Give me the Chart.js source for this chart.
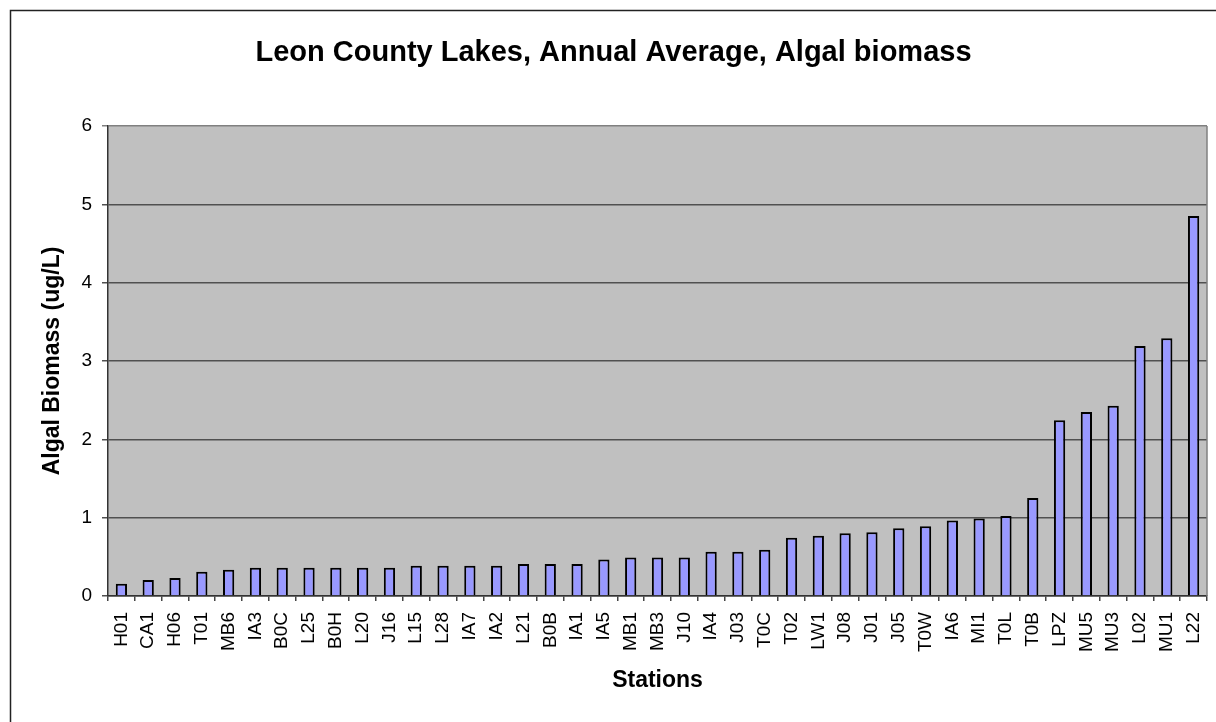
<!DOCTYPE html>
<html>
<head>
<meta charset="utf-8">
<script src="https://cdn.jsdelivr.net/npm/chart.js@4"></script>
<style>
  body { margin: 0; background: #fff; }
  canvas { display: block; }
</style>
</head>
<body>
<canvas id="algaeChart" width="1216" height="722"></canvas>
<script>
const stations = ['H01', 'CA1', 'H06', 'T01', 'MB6', 'IA3', 'B0C', 'L25', 'B0H', 'L20', 'J16', 'L15', 'L28', 'IA7',
    'IA2', 'L21', 'B0B', 'IA1', 'IA5', 'MB1', 'MB3', 'J10', 'IA4', 'J03', 'T0C', 'T02', 'LW1', 'J08', 'J01', 'J05',
    'T0W', 'IA6', 'MI1', 'T0L', 'T0B', 'LPZ', 'MU5', 'MU3', 'L02', 'MU1', 'L22'];
const biomass = [0.155, 0.205, 0.23, 0.31, 0.335, 0.36, 0.36, 0.36, 0.36, 0.36, 0.36, 0.385, 0.385, 0.385,
    0.385, 0.41, 0.41, 0.41, 0.465, 0.49, 0.49, 0.49, 0.565, 0.565, 0.59, 0.745, 0.77, 0.8, 0.815, 0.865,
    0.89, 0.965, 0.99, 1.02, 1.25, 2.245, 2.35, 2.43, 3.19, 3.29, 4.85];
const yTicks = [0, 1, 2, 3, 4, 5, 6];

const FONT = '"Liberation Sans", Arial, sans-serif';

// grey plot area, outer frame and the right edge of the plot
const excelFrame = {
    id: 'excelFrame',
    beforeDraw(chart) {
        const ctx = chart.ctx;
        const a = chart.chartArea;
        ctx.save();
        ctx.fillStyle = '#fff';
        ctx.fillRect(0, 0, chart.width, chart.height);
        ctx.fillStyle = '#c0c0c0';
        ctx.fillRect(a.left, a.top, a.right - a.left, a.bottom - a.top);
        ctx.strokeStyle = '#222';
        ctx.lineWidth = 1.5;
        ctx.strokeRect(10.5, 10.5, 1400, 900);
        ctx.restore();
    },
    afterDraw(chart) {
        const ctx = chart.ctx;
        const a = chart.chartArea;
        ctx.save();
        ctx.strokeStyle = '#808080';
        ctx.lineWidth = 1.5;
        ctx.beginPath();
        ctx.moveTo(a.right, a.top);
        ctx.lineTo(a.right, a.bottom);
        ctx.stroke();
        ctx.restore();
    }
};

new Chart(document.getElementById('algaeChart'), {
    type: 'bar',
    data: {
        labels: stations,
        datasets: [{
            data: biomass,
            backgroundColor: '#9999ff',
            borderColor: '#000',
            borderWidth: 2,
            categoryPercentage: 1,
            barPercentage: 0.42
        }]
    },
    options: {
        responsive: false,
        animation: false,
        layout: {
            padding: { top: 0, right: 9, left: 20, bottom: 0 }
        },
        plugins: {
            legend: { display: false },
            tooltip: { enabled: false },
            title: {
                display: true,
                text: 'Leon County Lakes, Annual Average, Algal biomass',
                color: '#000',
                font: { family: FONT, size: 29, weight: 'bold' },
                padding: { top: 35.5, bottom: 55.7 }
            }
        },
        scales: {
            x: {
                afterFit: (scale) => {
                    scale.height = 126;
                    scale.paddingLeft = 0;
                    scale.paddingRight = 0;
                },
                grid: {
                    offset: true,
                    drawOnChartArea: false,
                    drawTicks: true,
                    tickLength: 5,
                    color: '#444',
                    lineWidth: 1.5
                },
                border: { color: '#333', width: 1.5 },
                ticks: {
                    autoSkip: false,
                    minRotation: 90,
                    maxRotation: 90,
                    padding: 11,
                    color: '#000',
                    font: { family: FONT, size: 19 }
                },
                title: {
                    display: true,
                    text: 'Stations',
                    color: '#000',
                    font: { family: FONT, size: 23, weight: 'bold' },
                    padding: { top: 0, bottom: 28 }
                }
            },
            y: {
                min: 0,
                max: 6,
                afterFit: (scale) => { scale.width = 88; },
                afterBuildTicks: (scale) => { scale.ticks = yTicks.map(v => ({ value: v })); },
                grid: {
                    color: (c) => c.tick && c.tick.value === 6 ? '#808080' : '#505050',
                    lineWidth: 1.5,
                    tickLength: 6
                },
                border: { color: '#333', width: 1.5 },
                ticks: {
                    padding: 10,
                    color: '#000',
                    font: { family: FONT, size: 19 }
                },
                title: {
                    display: true,
                    text: 'Algal Biomass (ug/L)',
                    color: '#000',
                    font: { family: FONT, size: 23, weight: 'bold' },
                    padding: { top: 19, bottom: 0 }
                }
            }
        }
    },
    plugins: [excelFrame]
});
</script>
</body>
</html>
